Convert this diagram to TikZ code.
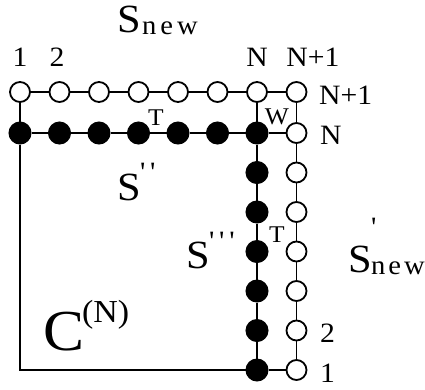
\documentclass[tikz,border=0pt]{standalone}
\usepackage{fontspec}
\setmainfont{Liberation Serif}[FakeStretch=1.06]
\begin{document}
\begin{tikzpicture}[x=1pt,y=-1pt,
  opendot/.style={circle,draw=black,fill=white,line width=1.8pt,minimum size=20pt,inner sep=0pt},
  fulldot/.style={circle,draw=black,fill=black,line width=1pt,minimum size=22pt,inner sep=0pt},
  wire/.style={line width=1.3pt},
  lbl/.style={inner sep=0pt,font=\fontsize{28}{30}\selectfont},
  small/.style={inner sep=0pt,font=\fontsize{24}{26}\selectfont},
  bigS/.style={inner sep=0pt,font=\fontsize{40}{44}\selectfont},
  prm/.style={inner sep=0pt,font=\fontsize{28}{30}\selectfont},
  sub/.style={inner sep=0pt,font=\fontsize{27}{30}\selectfont}]
\useasboundingbox (0,0) rectangle (425,389);
% top row of open circles
\foreach \i in {1,...,8} {
  \node[opendot] (o\i) at ({20+39.5*(\i-1)},92) {};
}
% black row
\foreach \i in {1,...,7} {
  \node[fulldot] (b\i) at ({20+39.5*(\i-1)},133) {};
}
% black column
\foreach \k in {1,...,6} {
  \node[fulldot] (c\k) at (257,{133+39.5*\k}) {};
}
% open column
\foreach \k in {1,...,7} {
  \node[opendot] (r\k) at (296.5,{370-39.5*(\k-1)}) {};
}
\coordinate (corner) at (20,370);
% connectors
\draw[wire] (o1)--(o2)--(o3)--(o4)--(o5)--(o6)--(o7)--(o8);
\draw[wire] (b1)--(b2)--(b3)--(b4)--(b5)--(b6)--(b7)--(r7);
\draw[wire] (o1)--(b1)--(corner)--(c6)--(r1);
\draw[wire] (o7)--(b7)--(c1)--(c2)--(c3)--(c4)--(c5)--(c6);
\draw[wire] (o8)--(r7)--(r6)--(r5)--(r4)--(r3)--(r2)--(r1);
% labels
\node[bigS,anchor=base west] (snS) at (117,32) {S};
\node[sub,anchor=base west] (snN) at (142,34) {n\hspace{4pt}e\hspace{4pt}w};
\node[lbl,anchor=base] (l1) at (20,66) {1};
\node[lbl,anchor=base] (l2) at (57,66) {2};
\node[lbl,anchor=base] (lN) at (257,66) {N};
\node[lbl,anchor=base] (lN1) at (313,66) {N+1};
\node[lbl,anchor=base west] (rN1) at (319,104) {N+1};
\node[lbl,anchor=base west] (rN) at (320,144) {N};
\node[lbl,anchor=base west] (r2l) at (320,342) {2};
\node[lbl,anchor=base west] (r1l) at (320,382) {1};
\node[small,anchor=base] (W) at (277,124) {W};
\node[small,anchor=base] (T1) at (156,125) {T};
\node[small,anchor=base] (T2) at (277,242) {T};
\node[bigS,anchor=base west] (s2) at (117,200) {S};
\node[prm,anchor=base west] (s2p) at (140,181) {\textquotesingle\hspace{5pt}\textquotesingle};
\node[bigS,anchor=base west] (s3) at (186,268) {S};
\node[prm,anchor=base west] (s3p) at (209,250) {\textquotesingle\hspace{5pt}\textquotesingle\hspace{5pt}\textquotesingle};
\node[bigS,anchor=base west] (s1) at (348,272) {S};
\node[prm,anchor=base west] (s1p) at (371,236) {\textquotesingle};
\node[sub,anchor=base west] (s1n) at (371,274) {n\hspace{3pt}e\hspace{3pt}w};
\node[inner sep=0pt,anchor=base west,font=\fontsize{58}{64}\selectfont] (C) at (43,350) {C};
\node[inner sep=0pt,anchor=base west,font=\fontsize{32}{36}\selectfont] (CN) at (82,322) {(N)};
\end{tikzpicture}
\end{document}
